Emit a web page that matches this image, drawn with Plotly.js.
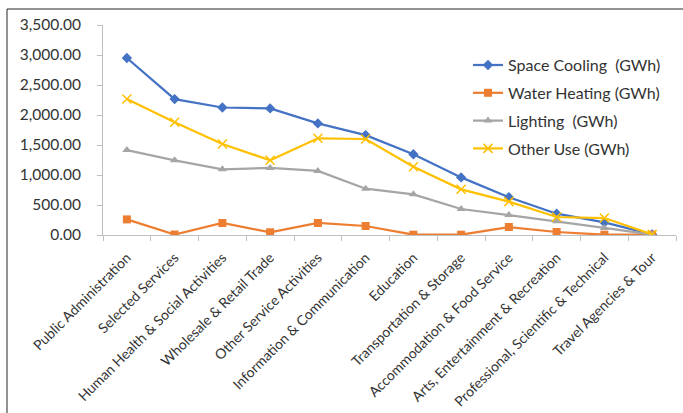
<!DOCTYPE html>
<html>
<head>
<meta charset="utf-8">
<script src="https://cdn.plot.ly/plotly-3.0.1.min.js"></script>
<style>html,body{margin:0;padding:0;background:#fff;}#chart{width:683px;height:413px;}</style>
</head>
<body>
<div id="chart"></div>
<script>
var categories = ["Public Administration","Selected Services","Human Health & Social Activities","Wholesale & Retail Trade","Other Service Activities","Information & Communication","Education","Transportation & Storage","Accommodation & Food Service","Arts, Entertainment & Recreation","Professional, Scientific & Technical","Travel Agencies & Tour"];
var spaceCooling = [2950, 2265, 2125, 2110, 1860, 1665, 1345, 960, 630, 355, 210, 10];
var waterHeating = [260, 8, 200, 45, 200, 150, 5, 5, 133, 50, 5, 5];
var lighting = [1415, 1245, 1095, 1117, 1067, 772, 678, 433, 333, 228, 117, 5];
var otherUse = [2267, 1878, 1517, 1245, 1611, 1600, 1139, 761, 556, 300, 283, 10];
var yTicks = [0, 500, 1000, 1500, 2000, 2500, 3000, 3500];
var yTickText = ["0.00","500.00","1,000.00","1,500.00","2,000.00","2,500.00","3,000.00","3,500.00"];
var seriesNames = ["Space Cooling  (GWh)","Water Heating (GWh)","Lighting  (GWh)","Other Use (GWh)"];

var font = "Lato, 'Open Sans', sans-serif";
function tr(y, name, color, sym, size, grp){
  return {x: categories, y: y, name: name, type: 'scatter', mode: 'lines+markers',
    legendgroup: grp,
    line: {color: color, width: 2.25},
    marker: {symbol: sym, size: size, color: color, line: {color: color, width: sym==='x-thin' ? 1.5 : 0}}};
}
var data = [
  tr(spaceCooling, seriesNames[0], '#4472C4', 'diamond', 8, 'a'),
  tr(waterHeating, seriesNames[1], '#ED7D31', 'square', 8, 'b'),
  tr(lighting, seriesNames[2], '#A5A5A5', 'triangle-up', 8, 'c'),
  tr(otherUse, seriesNames[3], '#FFC000', 'x-thin', 9, 'd')
];
var layout = {
  width: 683, height: 413,
  margin: {l: 103, r: 7, t: 25, b: 178},
  paper_bgcolor: '#fff', plot_bgcolor: '#fff',
  font: {family: font, color: '#333333', size: 14},
  showlegend: true,
  legend: {x: 0.637, y: 0.89, xanchor: 'left', yanchor: 'top', bgcolor: 'rgba(0,0,0,0)',
    font: {size: 16, color: '#333333'}, tracegroupgap: 4, traceorder: 'grouped'},
  xaxis: {type: 'category', range: [-0.5, 11.5], showgrid: false, zeroline: false,
    showline: true, linecolor: '#BFBFBF', linewidth: 1,
    ticks: 'outside', ticklen: 5, tickcolor: '#BFBFBF', tickson: 'boundaries',
    ticklabelstandoff: 8,
    tickangle: -45, tickfont: {size: 14, color: '#333333'}, fixedrange: true},
  yaxis: {range: [0, 3500], tickvals: yTicks, ticktext: yTickText, showgrid: false, zeroline: false,
    showline: true, linecolor: '#BFBFBF', linewidth: 1,
    ticks: 'outside', ticklen: 5, tickcolor: '#BFBFBF', ticklabelstandoff: 13,
    tickfont: {size: 15.5, color: '#333333'}, fixedrange: true},
  shapes: [
    {type: 'line', xref: 'paper', yref: 'paper', x0: -96/573, x1: 680/573, y0: (235-9)/210, y1: (235-9)/210, line: {color: '#262626', width: 1}},
    {type: 'line', xref: 'paper', yref: 'paper', x0: -96/573, x1: -96/573, y0: (235-9)/210, y1: -180/210, line: {color: '#262626', width: 1}}
  ]
};
Plotly.newPlot('chart', data, layout, {displayModeBar: false, staticPlot: true});
</script>
</body>
</html>
